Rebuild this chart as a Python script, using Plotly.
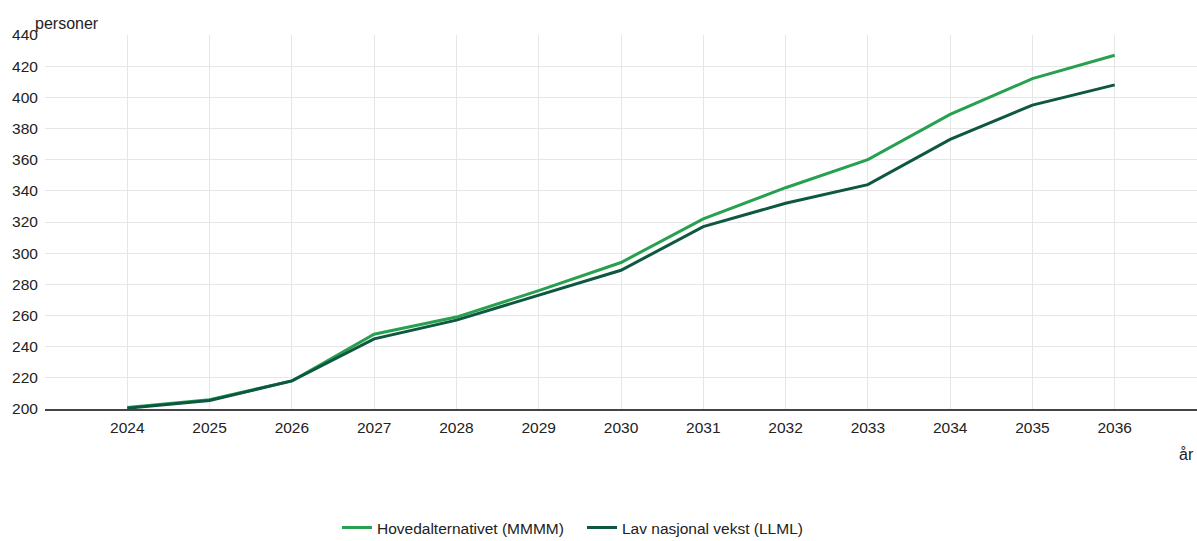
import plotly.graph_objects as go

years = list(range(2024, 2037))
hoved = [201, 206, 218, 248, 259, 276, 294, 322, 342, 360, 389, 412, 427]
lav = [200.5, 205.5, 218, 245, 257, 273, 289, 317, 332, 344, 373, 395, 408]
y_ticks = list(range(200, 441, 20))

fig = go.Figure()
fig.add_trace(go.Scatter(x=years, y=hoved, mode="lines", name="Hovedalternativet (MMMM)",
                         line=dict(color="#27a04f", width=3)))
fig.add_trace(go.Scatter(x=years, y=lav, mode="lines", name="Lav nasjonal vekst (LLML)",
                         line=dict(color="#0e5741", width=3)))

font = "Arial, Liberation Sans, sans-serif"
fig.update_layout(
    width=1197, height=541,
    margin=dict(l=45, r=0, t=35, b=132, autoexpand=False),
    paper_bgcolor="white", plot_bgcolor="white",
    font=dict(family=font, size=15.5, color="#222"),
    showlegend=True,
    legend=dict(orientation="h", x=(342 - 45 - 5) / 1152, xanchor="left", y=-0.318,
                yanchor="middle", entrywidth=200,
                font=dict(size=15.5, color="#222")),
    xaxis=dict(range=[2023, 2037], tickvals=years, ticktext=[str(y) for y in years],
               showgrid=True, gridcolor="#e6e6e6", zeroline=False,
               showline=True, linecolor="#444", linewidth=2, automargin=False,
               ticks="outside", ticklen=3, tickcolor="rgba(0,0,0,0)"),
    yaxis=dict(range=[200, 440], tickvals=y_ticks, showgrid=True, gridcolor="#e6e6e6",
               zeroline=False, showline=False, automargin=False, ticks="outside", ticklen=3,
               tickcolor="rgba(0,0,0,0)"),
    annotations=[
        dict(text="personer", xref="paper", yref="paper", x=0, y=1, xanchor="left",
             yanchor="bottom", showarrow=False, yshift=1, xshift=-12,
             font=dict(size=16, color="#222")),
        dict(text="år", xref="paper", yref="paper", x=1, y=0, xanchor="right",
             yanchor="top", showarrow=False, yshift=-35, xshift=-1,
             font=dict(size=16, color="#222")),
    ],
)
fig.write_html("out.html", config={"displayModeBar": False},
               post_script="document.body.style.margin='0';")
